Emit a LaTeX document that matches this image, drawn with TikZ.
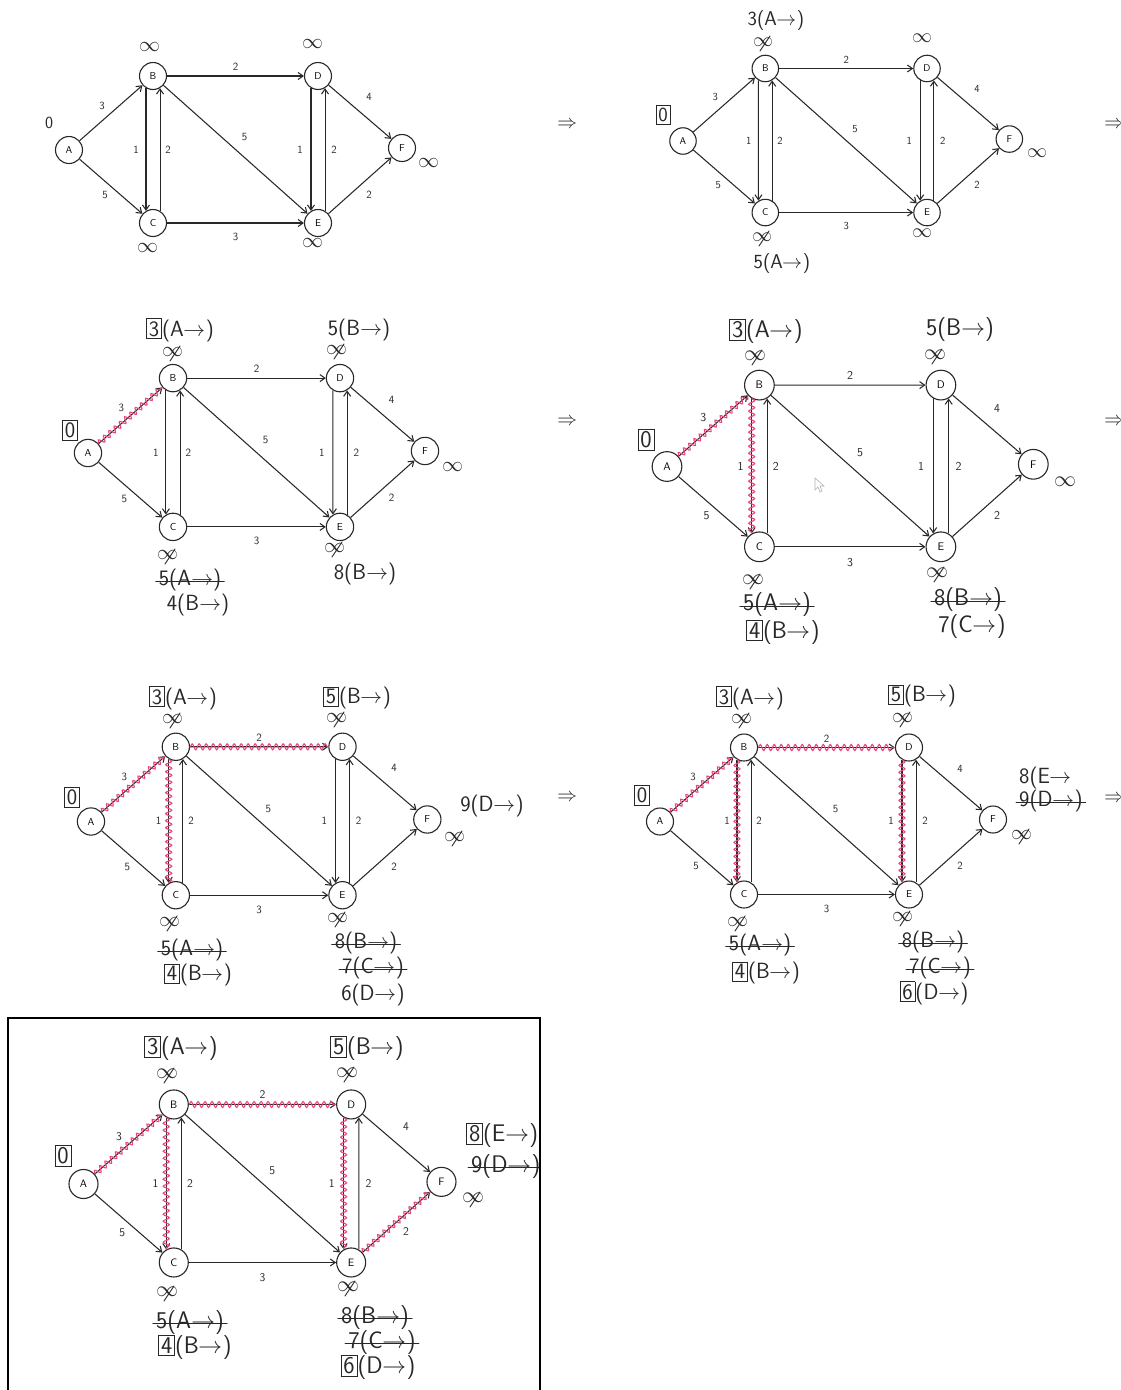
\documentclass[tikz,border=0pt]{standalone}
\usepackage{fontspec}
\usepackage{unicode-math}
\usetikzlibrary{arrows.meta,decorations.pathmorphing}

\definecolor{ink}{RGB}{40,40,40}
\definecolor{hl}{RGB}{232,70,125}

\newcounter{annc}
\def\hwsize{22}
\def\infsize{21}

\tikzset{
  vtx/.style={circle, draw=ink, line width=1.1pt, minimum size=27pt, inner sep=0pt,
    font=\sffamily\fontsize{10}{10}\selectfont},
  link/.style={draw=ink, line width=1.05pt, -{Straight Barb[length=5pt,width=7pt]}},
  wt/.style={font=\sffamily\fontsize{11}{11}\selectfont, text=ink, inner sep=0pt},
  hw/.style={font=\sffamily\fontsize{\hwsize}{\hwsize}\selectfont, text=ink, inner sep=0pt},
  hwinf/.style={font=\fontsize{\infsize}{\infsize}\selectfont, text=ink, inner sep=0pt},
  strike/.style={draw=ink, line width=0.9pt, line cap=round},
  hilite/.style={draw=hl, line width=1.1pt, decorate,
    decoration={snake, amplitude=3pt, segment length=7pt}},
  frame/.style={draw=black, line width=1.6pt},
  bigarrow/.style={font=\fontsize{20}{20}\selectfont, text=ink, inner sep=0pt}
}

% handwritten annotations
\newcommand\note[4][]{\stepcounter{annc}\node[hw,#1] (n\arabic{annc}) at (#2,#3) {#4};}
\newcommand\snote[4][]{\note[#1]{#2}{#3}{#4}%
  \draw[strike] ([xshift=-3pt,yshift=-1pt]n\arabic{annc}.west) -- ([xshift=3pt,yshift=-1pt]n\arabic{annc}.east);}
\newcommand\infmark[2]{\stepcounter{annc}\node[hwinf] (n\arabic{annc}) at (#1,#2) {$\infty$};}
\newcommand\infcross[2]{\infmark{#1}{#2}%
  \draw[strike] ([shift={(7pt,6pt)}]n\arabic{annc}.center) -- ([shift={(-3pt,-9pt)}]n\arabic{annc}.center);}
\newcommand\bx[1]{{\setlength\fboxsep{2pt}\setlength\fboxrule{0.8pt}\fbox{#1}}}
\newcommand\rar{$\to$}
\newcommand\thenext[3]{\stepcounter{annc}\node[bigarrow] (n\arabic{annc}) at (#1,#2) {#3};}

% the weighted digraph, placed with node A at (#2,#3) and scaled by #4
\newcommand\dgraph[4]{%
\begin{scope}[shift={(#2,#3)}, scale=#4, transform shape]
  \node[vtx] (#1A) at (0,0) {A};
  \node[vtx] (#1B) at (84,-74) {B};
  \node[vtx] (#1C) at (84,73) {C};
  \node[vtx] (#1D) at (249,-74) {D};
  \node[vtx] (#1E) at (249,73) {E};
  \node[vtx] (#1F) at (333,-2) {F};
  \draw[link] (#1A) -- (#1B) node[wt, midway, shift={(-9,-7.5)}] (#1wAB) {3};
  \draw[link] (#1A) -- (#1C) node[wt, midway, shift={(-6,8.5)}] (#1wAC) {5};
  \draw[link] (#1B.-120) -- (#1C.120) node[wt, midway, shift={(-10,0)}] (#1wBC) {1};
  \draw[link] (#1C.60) -- (#1B.-60) node[wt, midway, shift={(8,0)}] (#1wCB) {2};
  \draw[link] (#1B) -- (#1D) node[wt, midway, shift={(0,-9)}] (#1wBD) {2};
  \draw[link] (#1B) -- (#1E) node[wt, midway, shift={(9,-12)}] (#1wBE) {5};
  \draw[link] (#1C) -- (#1E) node[wt, midway, shift={(0,14)}] (#1wCE) {3};
  \draw[link] (#1D.-120) -- (#1E.120) node[wt, midway, shift={(-11,0)}] (#1wDE) {1};
  \draw[link] (#1E.60) -- (#1D.-60) node[wt, midway, shift={(9,0)}] (#1wED) {2};
  \draw[link] (#1D) -- (#1F) node[wt, midway, shift={(9,-15)}] (#1wDF) {4};
  \draw[link] (#1E) -- (#1F) node[wt, midway, shift={(9,9)}] (#1wEF) {2};
\end{scope}}

\begin{document}
\begin{tikzpicture}[x=1pt, y=-1pt]
\useasboundingbox[fill=white] (0,0) rectangle (1121,1390);

% ---------- step 1: initial distances ----------
\def\hwsize{22}
\dgraph{a}{69}{150}{1}
\note[font=\sffamily\fontsize{17}{17}\selectfont]{49}{123}{0}
\infmark{150}{47}
\infmark{313}{44}
\infmark{429}{163}
\infmark{148}{248}
\infmark{313}{243}
\thenext{567}{123}{$\Rightarrow$}

% ---------- step 2: relax edges out of A ----------
\def\hwsize{20}
\def\infsize{20}
\dgraph{b}{683}{141}{0.98}
\note{776}{21}{3(A\rar)}
\infcross{763}{42}
\note{663}{115}{\bx{0}}
\infmark{922}{38}
\infmark{1037}{153}
\infcross{762}{237}
\note{782}{264}{5(A\rar)}
\infmark{922}{233}
\thenext{1114}{123}{$\Rightarrow$}

% ---------- step 3: B settled ----------
\def\hwsize{22}
\def\infsize{21}
\dgraph{c}{88}{453}{1.012}
\draw[hilite] (cA) -- (cB);
\note{180}{330}{\bx{3}(A\rar)}
\infcross{173}{352}
\note{359}{330}{5(B\rar)}
\infcross{337}{350}
\note{70}{430}{\bx{0}}
\infmark{453}{467}
\infcross{168}{555}
\snote{190}{580}{5(A\rar)}
\note{198}{605}{4(B\rar)}
\infcross{335}{548}
\note{365}{574}{8(B\rar)}
\thenext{567}{420}{$\Rightarrow$}

% ---------- step 4: C settled ----------
\def\hwsize{24}
\def\infsize{22}
\dgraph{d}{667}{466.5}{1.1}
\draw[hilite] (dA) -- (dB);
\draw[hilite] (dB.-120) -- (dC.120);
\note{766}{331}{\bx{3}(A\rar)}
\infcross{755}{356}
\note{960}{330}{5(B\rar)}
\infcross{935}{355}
\note{646}{440}{\bx{0}}
\infmark{1065}{482}
\infcross{753}{580}
\snote{777}{605}{5(A\rar)}
\note{783}{632}{\bx{4}(B\rar)}
\infcross{937}{573}
\snote{968}{600}{8(B\rar)}
\note{972}{627}{7(C\rar)}
\draw[gray!60, fill=white, line width=0.6pt] (815,478) -- (815,490) -- (818,487) -- (820,492) -- (822,491) -- (820,486) -- (824,486) -- cycle;
\thenext{1114}{420}{$\Rightarrow$}

% ---------- step 5: D settled ----------
\def\hwsize{22}
\def\infsize{21}
\dgraph{e}{91}{821.5}{1.01}
\draw[hilite] (eA) -- (eB);
\draw[hilite] (eB.-120) -- (eC.120);
\draw[hilite] (eB) -- (eD);
\note{183}{698}{\bx{3}(A\rar)}
\infcross{173}{719}
\note{357}{698}{\bx{5}(B\rar)}
\infcross{337}{718}
\note{72}{797}{\bx{0}}
\note{492}{806}{9(D\rar)}
\infcross{455}{837}
\infcross{170}{922}
\snote{192}{950}{5(A\rar)}
\note{198}{975}{\bx{4}(B\rar)}
\infcross{338}{918}
\snote{366}{943}{8(B\rar)}
\snote{373}{968}{7(C\rar)}
\note{373}{995}{6(D\rar)}
\thenext{567}{796}{$\Rightarrow$}

% ---------- step 6: E settled ----------
\dgraph{f}{660}{821.5}{1.0}
\draw[hilite] (fA) -- (fB);
\draw[hilite] (fB.-120) -- (fC.120);
\draw[hilite] (fB) -- (fD);
\draw[hilite] (fD.-120) -- (fE.120);
\note{750}{698}{\bx{3}(A\rar)}
\infcross{742}{719}
\note{922}{696}{\bx{5}(B\rar)}
\infcross{903}{718}
\note{642}{795}{\bx{0}}
\note[anchor=west]{1019}{778}{8(E\rar}
\snote[anchor=west]{1019}{801}{9(D\rar)}
\infcross{1022}{835}
\infcross{738}{922}
\snote{760}{945}{5(A\rar)}
\note{766}{973}{\bx{4}(B\rar)}
\infcross{903}{917}
\snote{933}{942}{8(B\rar)}
\snote{940}{968}{7(C\rar)}
\note{934}{993}{\bx{6}(D\rar)}
\thenext{1114}{797}{$\Rightarrow$}

% ---------- step 7: F settled, shortest paths complete ----------
\draw[frame] (8,1400) -- (8,1018) -- (540,1018) -- (540,1400);
\begin{scope}
\clip (8,1018) rectangle (539,1400);
\def\hwsize{24}
\def\infsize{22}
\dgraph{g}{83.5}{1184}{1.075}
\draw[hilite] (gA) -- (gB);
\draw[hilite] (gB.-120) -- (gC.120);
\draw[hilite] (gB) -- (gD);
\draw[hilite] (gD.-120) -- (gE.120);
\draw[hilite] (gE) -- (gF);
\note{181}{1048}{\bx{3}(A\rar)}
\infcross{167}{1074}
\note{367}{1048}{\bx{5}(B\rar)}
\infcross{347}{1073}
\note{63}{1156}{\bx{0}}
\note[anchor=west]{466}{1135}{\bx{8}(E\rar)}
\snote[anchor=west]{471}{1166}{9(D\rar)}
\infcross{473}{1198}
\infcross{167}{1292}
\snote{190}{1322}{5(A\rar)}
\note{195}{1347}{\bx{4}(B\rar)}
\infcross{348}{1287}
\snote{375}{1317}{8(B\rar)}
\snote{382}{1342}{7(C\rar)}
\note{378}{1367}{\bx{6}(D\rar)}
\end{scope}
\end{tikzpicture}
\end{document}
